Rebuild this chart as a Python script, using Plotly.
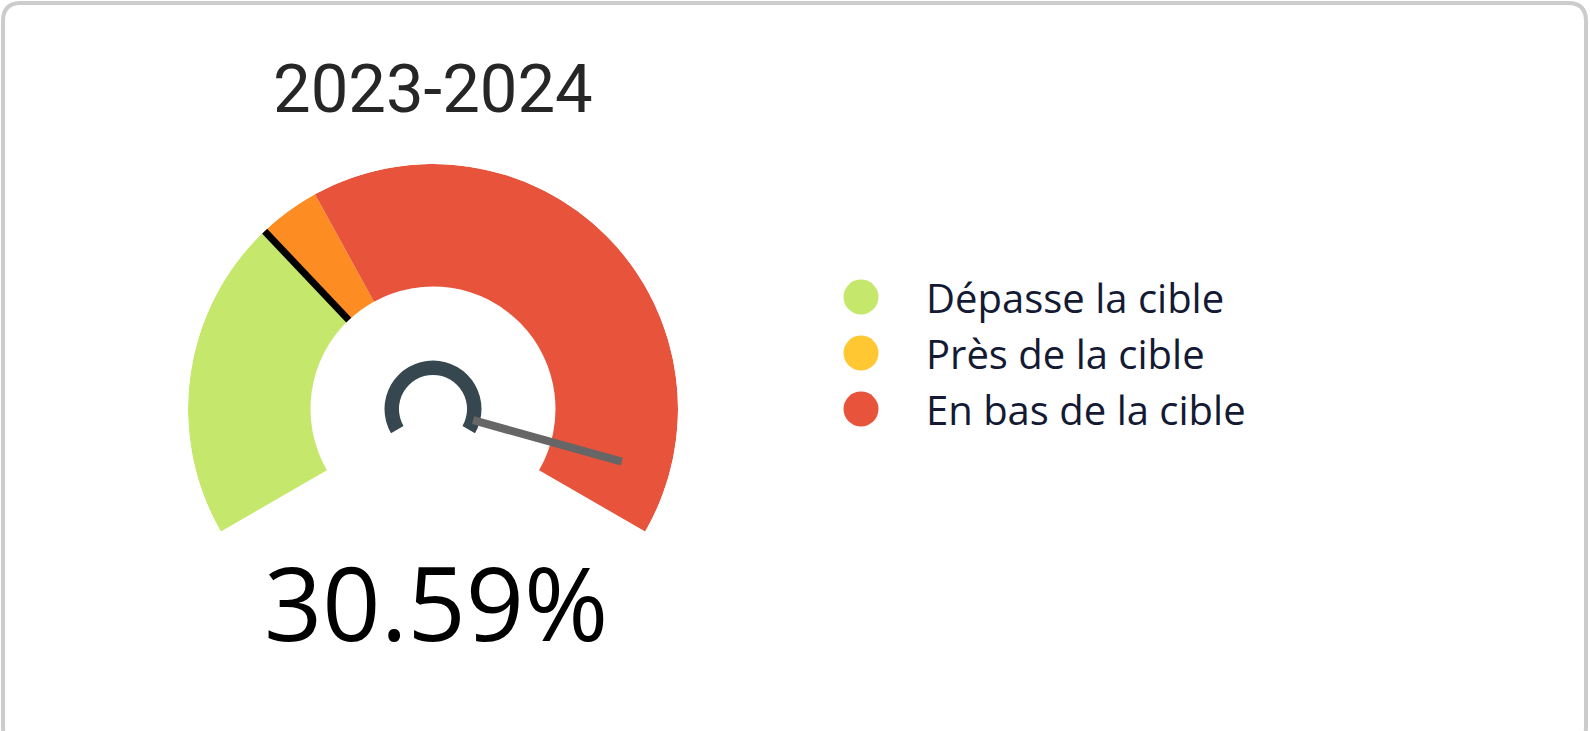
import plotly.graph_objects as go

# ---------------- data ----------------
title_text = "2023-2024"
value_label = "30.59%"

gauge_min = 0
gauge_max = 100
gauge_sweep_deg = 240

band_starts = [0, 31.9, 38.0]
band_ends = [31.9, 38.0, 100]
band_colors = ["#c5e86c", "#fd8d22", "#e8533b"]

target_value = 31.9
needle_value = 94.0

legend_labels = ["Dépasse la cible", "Près de la cible", "En bas de la cible"]
legend_colors = ["#c5e86c", "#ffc832", "#e8533b"]

# ---------------- geometry helpers ----------------
W, H = 1590, 731
cx, cy, R = 433, 409, 245  # gauge centre & outer radius (px)


def to_deg(v):
    return (v - gauge_min) / (gauge_max - gauge_min) * gauge_sweep_deg


fig = go.Figure()

# gauge bands
fig.add_trace(go.Barpolar(
    theta=[(to_deg(a) + to_deg(b)) / 2 for a, b in zip(band_starts, band_ends)],
    width=[to_deg(b) - to_deg(a) for a, b in zip(band_starts, band_ends)],
    r=[0.5] * len(band_starts),
    base=[0.5] * len(band_starts),
    marker=dict(color=band_colors, line=dict(width=0)),
    showlegend=False, hoverinfo="skip",
))

# target marker
fig.add_trace(go.Scatterpolar(
    theta=[to_deg(target_value)] * 2, r=[0.5, 1.0], mode="lines",
    line=dict(color="#000000", width=7), showlegend=False, hoverinfo="skip",
))

# needle
fig.add_trace(go.Scatterpolar(
    theta=[to_deg(needle_value)] * 2, r=[0.17, 0.80], mode="lines",
    line=dict(color="#666666", width=8), showlegend=False, hoverinfo="skip",
))

# hub ring
fig.add_trace(go.Barpolar(
    theta=[(to_deg(gauge_min) + to_deg(gauge_max)) / 2],
    width=[to_deg(gauge_max) - to_deg(gauge_min)],
    r=[0.059], base=[0.139],
    marker=dict(color="#37474f", line=dict(width=0)),
    showlegend=False, hoverinfo="skip",
))

# custom legend (circles + labels)
fig.add_trace(go.Scatter(
    x=[0] * len(legend_labels), y=list(range(len(legend_labels))),
    mode="markers", marker=dict(size=35, color=legend_colors, symbol="circle"),
    showlegend=False, hoverinfo="skip", xaxis="x", yaxis="y",
))

annotations = []
for i, lab in enumerate(legend_labels):
    annotations.append(dict(
        x=0, y=i, xref="x", yref="y", text=lab, showarrow=False,
        xanchor="left", yanchor="middle", xshift=63,
        font=dict(family="Open Sans", size=40, color="#141a33"),
    ))

annotations.append(dict(
    x=cx / W, y=1 - 89 / H, xref="paper", yref="paper", text=title_text,
    showarrow=False, xanchor="center", yanchor="middle",
    font=dict(family="Roboto", size=67, color="#262626", weight=400),
))
annotations.append(dict(
    x=cx / W + 3 / W, y=1 - 601 / H, xref="paper", yref="paper", text=value_label,
    showarrow=False, xanchor="center", yanchor="middle",
    font=dict(family="Open Sans", size=102, color="#000000"),
))

# rounded border
def px(x):
    return x / W


def py(y):
    return 1 - y / H


r_c = 18
x0, x1, y0, y1 = 3, 1586, 3, 745
path = (f"M {px(x0)},{py(y0 + r_c)} Q {px(x0)},{py(y0)} {px(x0 + r_c)},{py(y0)} "
        f"L {px(x1 - r_c)},{py(y0)} Q {px(x1)},{py(y0)} {px(x1)},{py(y0 + r_c)} "
        f"L {px(x1)},{py(y1 - r_c)} Q {px(x1)},{py(y1)} {px(x1 - r_c)},{py(y1)} "
        f"L {px(x0 + r_c)},{py(y1)} Q {px(x0)},{py(y1)} {px(x0)},{py(y1 - r_c)} Z")

fig.update_layout(
    width=W, height=H,
    margin=dict(l=0, r=0, t=0, b=0),
    paper_bgcolor="#ffffff", plot_bgcolor="rgba(0,0,0,0)",
    polar=dict(
        domain=dict(x=[(cx - R) / W, (cx + R) / W], y=[(H - cy - R) / H, (H - cy + R) / H]),
        bgcolor="rgba(0,0,0,0)", bargap=0,
        radialaxis=dict(visible=False, range=[0, 1]),
        angularaxis=dict(visible=False, rotation=210, direction="clockwise",
                         showgrid=False, showticklabels=False, showline=False, ticks=""),
    ),
    xaxis=dict(domain=[841 / W, 881 / W], range=[-1, 1], visible=False, fixedrange=True),
    yaxis=dict(domain=[(H - 437) / H, (H - 269) / H], range=[2.5, -0.5], visible=False, fixedrange=True),
    annotations=annotations,
    shapes=[dict(type="path", path=path, xref="paper", yref="paper",
                 line=dict(color="#cccccc", width=4), fillcolor="rgba(0,0,0,0)", layer="below")],
    showlegend=False,
)

fig.write_html(
    "out.html",
    config={"displayModeBar": False},
    post_script="document.body.style.margin='0';document.body.style.overflow='hidden';",
)
